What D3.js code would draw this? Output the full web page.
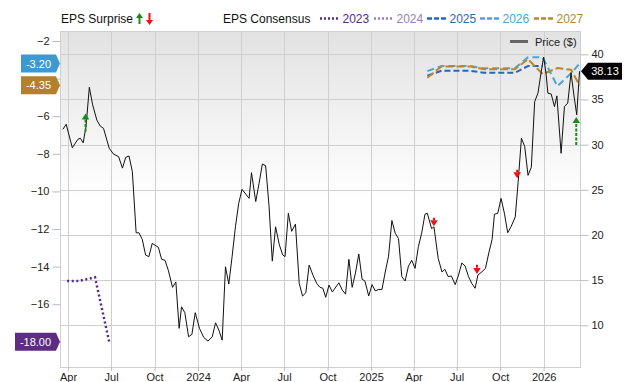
<!DOCTYPE html>
<html><head><meta charset="utf-8">
<script src="https://cdn.jsdelivr.net/npm/d3@7"></script>
<style>
html,body{margin:0;padding:0;background:#fff;}
svg{display:block;font-family:"Liberation Sans",Arial,sans-serif;}
</style></head>
<body><svg id="c" width="640" height="382"></svg>
<script>
// ---------- DATA ----------
const priceDates = ["2023-03-21","2023-03-28","2023-04-10","2023-04-22","2023-04-27","2023-05-03","2023-05-09","2023-05-16","2023-05-23","2023-06-01","2023-06-08","2023-06-15","2023-06-27","2023-07-06","2023-07-17","2023-07-25","2023-08-01","2023-08-08","2023-08-15","2023-08-23","2023-08-29","2023-09-05","2023-09-12","2023-09-19","2023-09-26","2023-10-09","2023-10-16","2023-10-23","2023-10-30","2023-11-08","2023-11-15","2023-11-22","2023-11-27","2023-12-04","2023-12-12","2023-12-19","2023-12-26","2024-01-04","2024-01-13","2024-01-22","2024-01-31","2024-02-07","2024-02-14","2024-02-21","2024-02-28","2024-03-06","2024-03-13","2024-03-20","2024-03-27","2024-04-03","2024-04-18","2024-04-23","2024-05-02","2024-05-09","2024-05-16","2024-05-23","2024-05-30","2024-06-06","2024-06-13","2024-06-21","2024-06-28","2024-07-03","2024-07-10","2024-07-17","2024-07-25","2024-08-02","2024-08-09","2024-08-16","2024-08-23","2024-08-31","2024-09-08","2024-09-15","2024-09-21","2024-09-27","2024-10-04","2024-10-11","2024-10-25","2024-11-01","2024-11-08","2024-11-15","2024-11-22","2024-11-29","2024-12-06","2024-12-13","2024-12-19","2024-12-27","2025-01-03","2025-01-10","2025-01-17","2025-01-24","2025-01-31","2025-02-07","2025-02-14","2025-02-21","2025-02-28","2025-03-07","2025-03-14","2025-03-21","2025-03-28","2025-04-04","2025-04-11","2025-04-18","2025-04-25","2025-04-30","2025-05-09","2025-05-14","2025-05-23","2025-05-31","2025-06-06","2025-06-13","2025-06-20","2025-06-28","2025-07-05","2025-07-12","2025-07-19","2025-07-26","2025-08-02","2025-08-09","2025-08-15","2025-08-23","2025-08-31","2025-09-07","2025-09-14","2025-09-19","2025-09-26","2025-10-03","2025-10-10","2025-10-17","2025-10-24","2025-11-02","2025-11-08","2025-11-15","2025-11-22","2025-11-29","2025-12-06","2025-12-13","2025-12-20","2025-12-27","2026-01-01","2026-01-06","2026-01-10","2026-01-17","2026-01-24","2026-01-29","2026-02-07","2026-02-14","2026-02-21","2026-02-28","2026-03-06","2026-03-12","2026-03-18"];
const priceValues = [31.7,32.25,29.66,30.6,30.7,30.2,32.0,36.35,34.4,32.7,32.06,31.8,29.6,28.96,28.66,27.4,28.6,28.74,27.0,20.24,20.24,19.5,17.78,17.6,19.07,18.63,17.3,17.2,16.1,14.2,14.8,9.66,12.05,11.4,8.73,9.0,11.4,9.66,8.66,8.25,8.73,10.28,9.47,8.36,16.48,14.56,17.6,20.9,23.5,25.05,24.05,26.9,23.7,25.7,27.85,27.66,23.3,17.1,20.9,18.9,17.8,17.6,22.4,20.4,21.2,14.64,13.24,13.6,16.67,15.56,14.64,14.2,14.1,13.1,14.45,13.7,14.7,13.9,13.45,17.3,14.2,15.8,17.9,15.1,14.9,13.24,14.5,13.8,13.97,13.97,15.9,17.66,21.6,20.2,19.6,15.4,14.9,16.55,17.2,16.3,18.7,20.2,22.3,22.4,20.7,20.9,17.4,15.9,16.2,15.4,15.45,14.5,15.56,16.9,16.55,15.4,14.64,14.1,15.56,15.9,16.3,18.0,19.5,22.3,22.4,24.05,22.4,20.25,20.9,22.0,25.8,30.7,29.8,26.6,27.5,34.75,35.7,38.1,39.7,37.9,35.7,35.6,34.2,35.4,29.04,34.2,34.6,37.96,35.5,33.3,38.13];

const cons2023Dates = ["2023-03-30","2023-04-23","2023-05-28","2023-06-27"];
const cons2023Values = [-14.77,-14.77,-14.57,-18.0];
const cons2024Dates = [];
const cons2024Values = [];
const cons2025Dates = ["2025-04-30","2025-05-30","2025-07-29","2025-08-27","2025-11-01","2025-11-29","2025-12-30"];
const cons2025Values = [-3.85,-3.58,-3.58,-3.69,-3.69,-3.33,-3.33];
const cons2026Dates = ["2025-04-30","2025-05-30","2025-07-29","2025-08-27","2025-11-01","2025-11-29","2025-12-30","2026-01-30","2026-02-28","2026-03-18"];
const cons2026Values = [-3.6,-3.33,-3.33,-3.45,-3.45,-2.87,-2.87,-4.4,-3.72,-3.20];
const cons2027Dates = ["2025-04-30","2025-05-30","2025-07-29","2025-08-27","2025-11-01","2025-11-29","2025-12-30","2026-01-30","2026-02-28","2026-03-18"];
const cons2027Values = [-3.95,-3.35,-3.35,-3.5,-3.5,-2.97,-3.76,-3.44,-3.53,-4.35];

const surpriseDates = ["2023-05-08","2025-05-14","2025-08-13","2025-11-06","2026-03-11"];
const surpriseEstimate = [-6.82,-11.4,-13.9,-8.85,-7.53];
const surpriseActual = [-5.85,-11.85,-14.4,-9.3,-6.04];

const epsTicks = [-2,-4,-6,-8,-10,-12,-14,-16,-18];
const epsTicksCovered = [-4,-18];
const priceTicks = [10,15,20,25,30,35,40];
const xTickDates = ["2023-04-01","2023-07-01","2023-10-01","2024-01-01","2024-04-01","2024-07-01","2024-10-01","2025-01-01","2025-04-01","2025-07-01","2025-10-01","2026-01-01"];
const xTickLabels = ["Apr","Jul","Oct","2024","Apr","Jul","Oct","2025","Apr","Jul","Oct","2026"];

const seriesNames = ["2023","2024","2025","2026","2027"];
const seriesColors = ["#5b2a86","#9d7bbd","#2a66b8","#46a6d9","#b8872f"];
const seriesDash = ["2,2.6","2,2.6","6,3","7,4","8,3"];

// ---------- LAYOUT ----------
const P = {l:60.5, r:580.5, t:31, b:367};
const parse = d3.timeParse("%Y-%m-%d");
const svg = d3.select("#c");

const x = d3.scaleTime().domain([parse("2023-03-16"), parse("2026-03-20")]).range([P.l, P.r]);
const yL = d3.scaleLinear().domain([-2,-18]).range([41,341.8]);
const yR = d3.scaleLinear().domain([40,10]).range([54.3,325.3]);

// background gradient
const defs = svg.append("defs");
const g = defs.append("linearGradient").attr("id","bg").attr("x1",0).attr("y1",0).attr("x2",0).attr("y2",1);
g.append("stop").attr("offset","0%").attr("stop-color","#e2e2e2");
g.append("stop").attr("offset","50%").attr("stop-color","#ffffff");
g.append("stop").attr("offset","100%").attr("stop-color","#ffffff");
svg.append("rect").attr("x",P.l).attr("y",P.t).attr("width",P.r-P.l).attr("height",P.b-P.t).attr("fill","url(#bg)");

defs.append("clipPath").attr("id","clip").append("rect").attr("x",P.l).attr("y",P.t).attr("width",P.r-P.l).attr("height",P.b-P.t);

const grid = svg.append("g").attr("stroke","#cfcfcf").attr("stroke-width",1).attr("shape-rendering","crispEdges");
priceTicks.forEach(t=>{ grid.append("line").attr("x1",P.l).attr("x2",P.r).attr("y1",Math.round(yR(t))+0.5).attr("y2",Math.round(yR(t))+0.5); });
xTickDates.forEach(d=>{ const xx=Math.round(x(parse(d)))+0.5; grid.append("line").attr("x1",xx).attr("x2",xx).attr("y1",P.t).attr("y2",P.b); });
svg.append("rect").attr("x",P.l).attr("y",P.t).attr("width",P.r-P.l).attr("height",P.b-P.t).attr("fill","none").attr("stroke","#cfcfcf").attr("shape-rendering","crispEdges");

// axes
const axL = svg.append("g").attr("transform",`translate(${P.l},0)`)
  .call(d3.axisLeft(yL).tickValues(epsTicks).tickSize(8).tickPadding(3)
    .tickFormat(d=>epsTicksCovered.includes(d)?"":d3.format("d")(d)));
const axR = svg.append("g").attr("transform",`translate(${P.r},0)`)
  .call(d3.axisRight(yR).tickValues(priceTicks).tickSize(8).tickPadding(3));
const axB = svg.append("g").attr("transform",`translate(0,${P.b})`)
  .call(d3.axisBottom(x).tickValues(xTickDates.map(parse)).tickSize(4).tickPadding(2).tickFormat((d,i)=>xTickLabels[i]));
[axL,axR,axB].forEach(a=>{
  a.select(".domain").remove();
  a.selectAll(".tick line").attr("stroke","#bdbdbd");
  a.selectAll("text").attr("fill","#222").attr("font-size","11px").attr("font-family","Liberation Sans, Arial, sans-serif");
});

const plot = svg.append("g").attr("clip-path","url(#clip)");

// consensus lines
const consData = [
  [cons2023Dates,cons2023Values],[cons2024Dates,cons2024Values],[cons2025Dates,cons2025Values],
  [cons2026Dates,cons2026Values],[cons2027Dates,cons2027Values]];
const lineL = d3.line().x(d=>x(d[0])).y(d=>yL(d[1]));
consData.forEach((s,i)=>{
  const pts = s[0].map((d,j)=>[parse(d), s[1][j]]);
  if(!pts.length) return;
  plot.append("path").attr("d",lineL(pts)).attr("fill","none")
    .attr("stroke",seriesColors[i]).attr("stroke-width",i<2?2.5:2).attr("stroke-dasharray",seriesDash[i]);
});

// price line
const pricePts = priceDates.map((d,i)=>[parse(d), priceValues[i]]);
plot.append("path").attr("d", d3.line().x(d=>x(d[0])).y(d=>yR(d[1]))(pricePts))
  .attr("fill","none").attr("stroke","#111").attr("stroke-width",1).attr("stroke-linejoin","round");

// surprise arrows
surpriseDates.forEach((d,i)=>{
  const xx = x(parse(d)), y0 = yL(surpriseEstimate[i]), y1 = yL(surpriseActual[i]);
  const up = surpriseActual[i] > surpriseEstimate[i];
  const col = up ? "#1a8a1a" : "#ee1111";
  const dir = up ? 1 : -1;
  const hb = y1 + dir*6;
  plot.append("line").attr("x1",xx).attr("x2",xx).attr("y1",y0).attr("y2",hb)
    .attr("stroke",col).attr("stroke-width",2).attr("stroke-dasharray","3,1.5");
  plot.append("path").attr("d",`M${xx-3.8},${hb}L${xx},${y1}L${xx+3.8},${hb}Z`).attr("fill",col);
});

// price legend
svg.append("line").attr("x1",510).attr("x2",528).attr("y1",41.5).attr("y2",41.5).attr("stroke","#666").attr("stroke-width",3);
svg.append("text").attr("x",535).attr("y",45.5).attr("font-size","11px").attr("fill","#222").text("Price ($)");

// top legend
const lg = svg.append("g").attr("font-size","12px");
lg.append("text").attr("x",61).attr("y",23).attr("fill","#111").text("EPS Surprise");
function arrowIcon(cx, up, col){
  const tip = up?13:25, base=up?18:20;
  lg.append("path").attr("d",`M${cx-3.5},${base}L${cx},${tip}L${cx+3.5},${base}Z`).attr("fill",col);
  lg.append("line").attr("x1",cx).attr("x2",cx).attr("y1",up?17:13).attr("y2",up?24:21).attr("stroke",col).attr("stroke-width",2);
}
arrowIcon(139.5,true,"#1a8a1a");
arrowIcon(149.5,false,"#ee1111");
lg.append("text").attr("x",223).attr("y",23).attr("fill","#111").text("EPS Consensus");
const legX = [320,374,427,480,534];
seriesNames.forEach((n,i)=>{
  lg.append("line").attr("x1",legX[i]).attr("x2",legX[i]+19).attr("y1",18.5).attr("y2",18.5)
    .attr("stroke",seriesColors[i]).attr("stroke-width",2.5).attr("stroke-dasharray",i<2?"2,2":"5,2");
  lg.append("text").attr("x",legX[i]+22.5).attr("y",23).attr("fill",seriesColors[i]).text(n);
});

// left badges (last values)
function leftBadge(val, col, x0){
  const yy = yL(val), h = 18, tip = P.l - 0.5, bodyEnd = tip - 4;
  svg.append("path").attr("d",`M${x0},${yy-h/2}L${bodyEnd},${yy-h/2}L${tip},${yy}L${bodyEnd},${yy+h/2}L${x0},${yy+h/2}Z`).attr("fill",col);
  svg.append("text").attr("x",(x0+bodyEnd)/2).attr("y",yy+4).attr("text-anchor","middle").attr("fill","#fff").attr("font-size","11px").text(val.toFixed(2));
}
leftBadge(cons2026Values[cons2026Values.length-1], "#3d9ad0", 21);
leftBadge(cons2027Values[cons2027Values.length-1], "#b5802e", 21);
leftBadge(cons2023Values[cons2023Values.length-1], "#5c2d82", 15);

// right price badge
(function(){
  const v = priceValues[priceValues.length-1], yy = yR(v), h=17, tip=P.r+0.5, b=tip+7, x1=622;
  svg.append("path").attr("d",`M${tip},${yy}L${b},${yy-h/2}L${x1},${yy-h/2}L${x1},${yy+h/2}L${b},${yy+h/2}Z`).attr("fill","#000");
  svg.append("text").attr("x",(b+x1)/2).attr("y",yy+4).attr("text-anchor","middle").attr("fill","#fff").attr("font-size","11px").text(v.toFixed(2));
})();
</script></body></html>
